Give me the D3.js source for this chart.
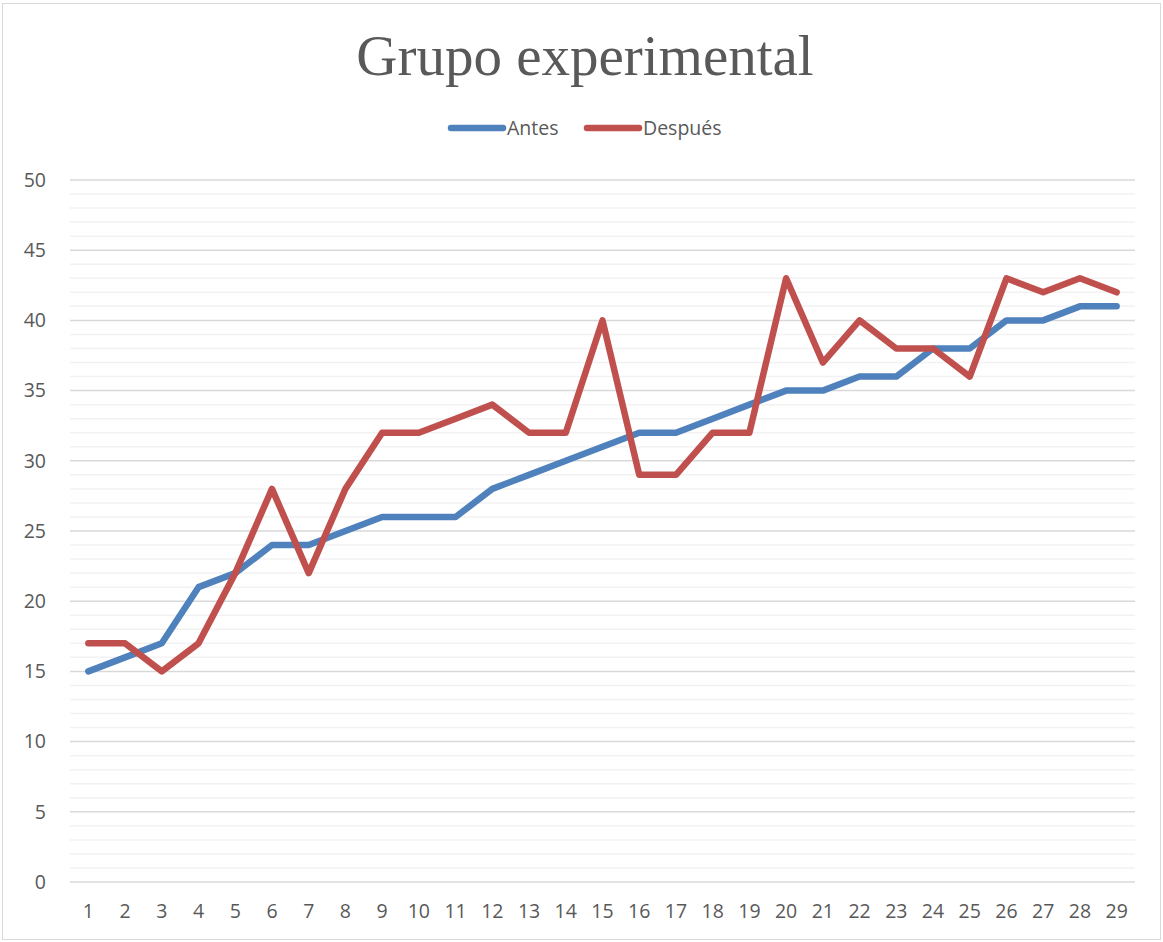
<!DOCTYPE html>
<html>
<head>
<meta charset="utf-8">
<script src="https://cdn.jsdelivr.net/npm/d3@7"></script>
<style>
  html, body { margin: 0; padding: 0; background: #fff; }
  svg { display: block; }
</style>
</head>
<body>
<div id="chart"></div>
<script>
const categories = d3.range(1, 30).map(String);
const antes = [15, 16, 17, 21, 22, 24, 24, 25, 26, 26, 26, 28, 29, 30, 31, 32, 32, 33, 34, 35, 35, 36, 36, 38, 38, 40, 40, 41, 41];
const despues = [17, 17, 15, 17, 22, 28, 22, 28, 32, 32, 33, 34, 32, 32, 40, 29, 29, 32, 32, 43, 37, 40, 38, 38, 36, 43, 42, 43, 42];
const seriesNames = ['Antes', 'Después'];
const seriesColors = ['#4F81BD', '#C0504D'];
const yTicks = [0, 5, 10, 15, 20, 25, 30, 35, 40, 45, 50];

const width = 1163;
const height = 942;
const margin = { top: 180, right: 28, bottom: 60, left: 70 };
const labelFont = 'Open Sans, sans-serif';
const labelSize = 19.5;

const svg = d3.select('#chart').append('svg')
  .attr('width', width)
  .attr('height', height);

// outer frame
svg.append('rect')
  .attr('x', 2.5).attr('y', 3.5)
  .attr('width', width - 5).attr('height', height - 6)
  .attr('fill', '#fff')
  .attr('stroke', '#d9d9d9');

const x = d3.scaleBand()
  .domain(categories)
  .range([margin.left, width - margin.right]);

const y = d3.scaleLinear()
  .domain([0, 50])
  .range([height - margin.bottom, margin.top]);

// minor gridlines
svg.append('g')
  .selectAll('line')
  .data(d3.range(0, 51).filter(v => v % 5 !== 0))
  .join('line')
  .attr('x1', margin.left).attr('x2', width - margin.right)
  .attr('y1', d => y(d)).attr('y2', d => y(d))
  .attr('stroke', '#f2f2f2')
  .attr('stroke-width', 1.5);

// major gridlines
svg.append('g')
  .selectAll('line')
  .data(yTicks)
  .join('line')
  .attr('x1', margin.left).attr('x2', width - margin.right)
  .attr('y1', d => y(d)).attr('y2', d => y(d))
  .attr('stroke', '#d9d9d9')
  .attr('stroke-width', 1.5);

// y axis labels
const yAxis = svg.append('g')
  .attr('transform', `translate(${margin.left - 24},0)`)
  .call(d3.axisLeft(y).tickValues(yTicks).tickSize(0).tickPadding(0));
yAxis.select('.domain').remove();
yAxis.selectAll('text')
  .attr('font-family', labelFont)
  .attr('font-size', labelSize)
  .attr('fill', '#595959');

// x axis labels
const xAxis = svg.append('g')
  .attr('transform', `translate(0,${height - margin.bottom + 22})`)
  .call(d3.axisBottom(x).tickSize(0).tickPadding(0));
xAxis.select('.domain').remove();
xAxis.selectAll('text')
  .attr('font-family', labelFont)
  .attr('font-size', labelSize)
  .attr('fill', '#595959');

const line = d3.line()
  .x((d, i) => x(categories[i]) + x.bandwidth() / 2)
  .y(d => y(d));

[antes, despues].forEach((values, k) => {
  svg.append('path')
    .datum(values)
    .attr('d', line)
    .attr('fill', 'none')
    .attr('stroke', seriesColors[k])
    .attr('stroke-width', 6.5)
    .attr('stroke-linejoin', 'round')
    .attr('stroke-linecap', 'round');
});

// title
svg.append('text')
  .attr('x', 585)
  .attr('y', 75)
  .attr('text-anchor', 'middle')
  .attr('font-family', 'Liberation Serif, serif')
  .attr('font-size', 57)
  .attr('fill', '#595959')
  .text('Grupo experimental');

// legend
const legendItems = [
  { name: seriesNames[0], color: seriesColors[0], x0: 451 },
  { name: seriesNames[1], color: seriesColors[1], x0: 587 }
];
const legend = svg.append('g');
legendItems.forEach(item => {
  legend.append('line')
    .attr('x1', item.x0).attr('x2', item.x0 + 52)
    .attr('y1', 128).attr('y2', 128)
    .attr('stroke', item.color)
    .attr('stroke-width', 6.5)
    .attr('stroke-linecap', 'round');
  legend.append('text')
    .attr('x', item.x0 + 56)
    .attr('y', 135)
    .attr('font-family', labelFont)
    .attr('font-size', labelSize)
    .attr('fill', '#595959')
    .text(item.name);
});
</script>
</body>
</html>
